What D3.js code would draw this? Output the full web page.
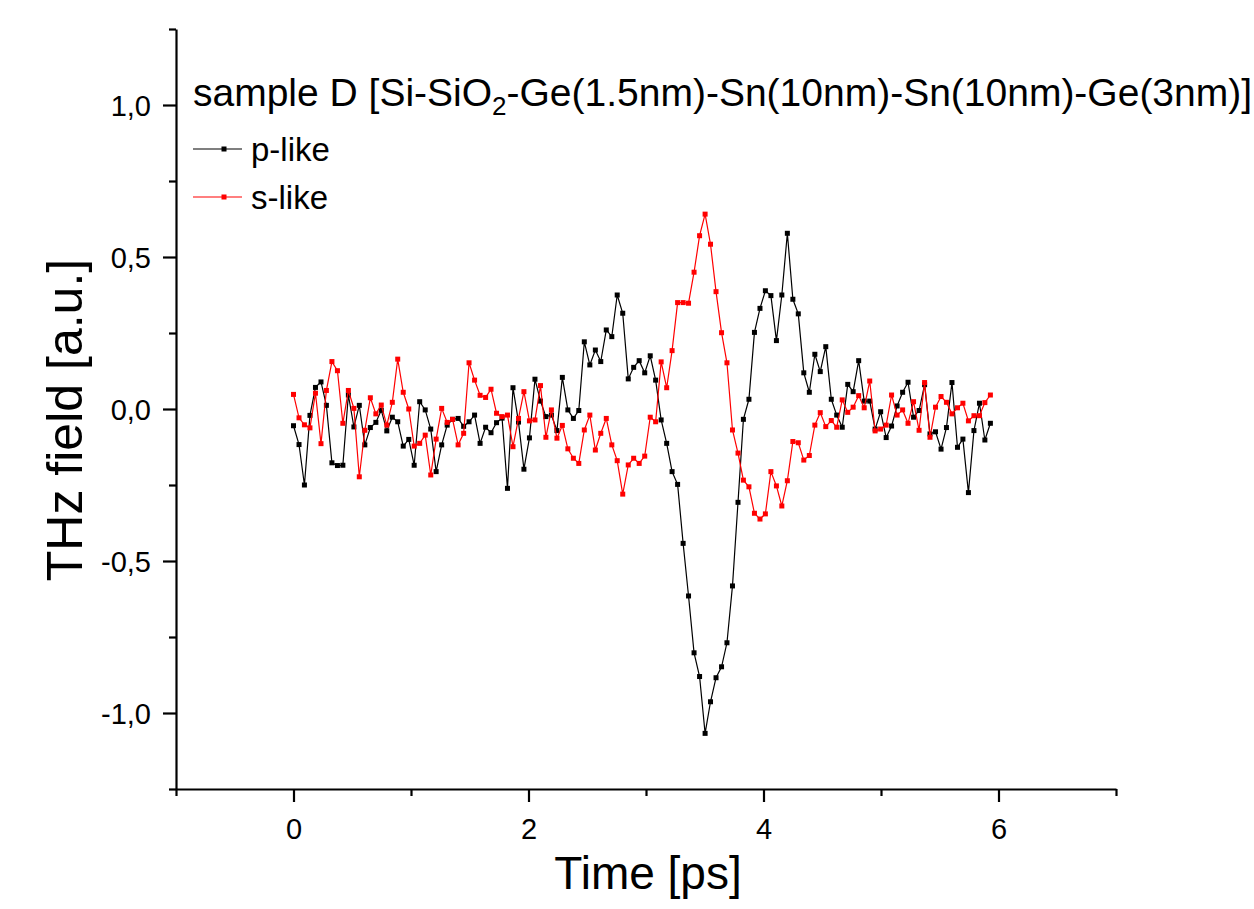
<!DOCTYPE html>
<html>
<head>
<meta charset="utf-8">
<script src="https://cdn.jsdelivr.net/npm/d3@7"></script>
<style>
  body { margin: 0; background: #fff; }
  text { font-family: "Liberation Sans", Arial, sans-serif; fill: #000; }
</style>
</head>
<body>
<div id="chart"></div>
<script>
// Sample times [ps]
const time = [
  0.000, 0.047, 0.093, 0.140, 0.187, 0.234, 0.280, 0.327, 0.374, 0.420,
  0.467, 0.514, 0.560, 0.607, 0.654, 0.701, 0.747, 0.794, 0.841, 0.887,
  0.934, 0.981, 1.027, 1.074, 1.121, 1.168, 1.214, 1.261, 1.308, 1.354,
  1.401, 1.448, 1.494, 1.541, 1.588, 1.635, 1.681, 1.728, 1.775, 1.821,
  1.868, 1.915, 1.961, 2.008, 2.055, 2.102, 2.148, 2.195, 2.242, 2.288,
  2.335, 2.382, 2.428, 2.475, 2.522, 2.569, 2.615, 2.662, 2.709, 2.755,
  2.802, 2.849, 2.895, 2.942, 2.989, 3.036, 3.082, 3.129, 3.176, 3.222,
  3.269, 3.316, 3.362, 3.409, 3.456, 3.503, 3.549, 3.596, 3.643, 3.689,
  3.736, 3.783, 3.829, 3.876, 3.923, 3.970, 4.016, 4.063, 4.110, 4.156,
  4.203, 4.250, 4.296, 4.343, 4.390, 4.437, 4.483, 4.530, 4.577, 4.623,
  4.670, 4.717, 4.763, 4.810, 4.857, 4.904, 4.950, 4.997, 5.044, 5.090,
  5.137, 5.184, 5.230, 5.277, 5.324, 5.371, 5.417, 5.464, 5.511, 5.557,
  5.604, 5.651, 5.697, 5.744, 5.791, 5.838, 5.884, 5.931
];

// p-like signal (black)
const pLike = [
  -0.055, -0.117, -0.250, -0.021, 0.071, 0.089, 0.012, -0.177, -0.186, -0.185,
  0.046, -0.059, 0.012, -0.118, -0.061, -0.044, -0.004, -0.072, -0.027, -0.042,
  -0.122, -0.100, -0.185, 0.024, -0.003, -0.066, -0.206, -0.118, -0.053, -0.034,
  -0.031, -0.057, -0.042, -0.020, -0.113, -0.060, -0.078, -0.045, -0.030, -0.261,
  0.070, -0.043, -0.198, -0.095, 0.098, 0.026, -0.025, -0.020, -0.071, 0.104,
  -0.003, -0.031, -0.005, 0.221, 0.145, 0.194, 0.156, 0.260, 0.238, 0.375,
  0.315, 0.099, 0.137, 0.159, 0.119, 0.175, 0.095, -0.036, -0.113, -0.206,
  -0.248, -0.442, -0.615, -0.802, -0.880, -1.067, -0.963, -0.884, -0.848, -0.769,
  -0.582, -0.307, -0.034, 0.032, 0.252, 0.331, 0.389, 0.373, 0.225, 0.375,
  0.578, 0.361, 0.313, 0.119, 0.055, 0.180, 0.123, 0.205, 0.032, -0.020,
  -0.060, 0.081, 0.057, 0.159, 0.026, 0.026, -0.066, -0.009, -0.094, -0.056,
  0.010, 0.055, 0.088, -0.027, -0.005, 0.080, -0.082, -0.075, -0.132, -0.061,
  0.087, -0.126, -0.099, -0.275, -0.071, 0.019, -0.102, -0.047
];

// s-like signal (red)
const sLike = [
  0.048, -0.029, -0.052, -0.062, 0.052, -0.114, 0.061, 0.156, 0.126, -0.047,
  0.061, 0.002, -0.223, -0.070, 0.037, -0.016, 0.013, -0.053, 0.022, 0.164,
  0.055, 0.000, -0.122, -0.113, -0.086, -0.217, -0.099, 0.002, -0.044, -0.034,
  -0.118, -0.080, 0.152, 0.095, 0.045, 0.038, 0.065, -0.014, -0.025, -0.020,
  -0.124, -0.031, 0.057, -0.039, -0.036, 0.077, -0.093, -0.003, -0.096, -0.054,
  -0.131, -0.162, -0.179, -0.069, -0.020, -0.135, -0.080, -0.031, -0.118, -0.170,
  -0.280, -0.184, -0.162, -0.179, -0.155, -0.027, -0.042, 0.155, 0.070, 0.192,
  0.350, 0.350, 0.348, 0.450, 0.570, 0.641, 0.542, 0.386, 0.251, 0.152,
  -0.069, -0.145, -0.234, -0.256, -0.343, -0.362, -0.345, -0.206, -0.253, -0.319,
  -0.236, -0.107, -0.111, -0.168, -0.153, -0.053, -0.012, -0.058, -0.038, -0.060,
  0.030, -0.011, 0.006, 0.044, 0.004, 0.092, -0.072, -0.066, -0.053, 0.046,
  -0.020, -0.003, -0.047, 0.024, -0.070, 0.087, -0.093, 0.006, 0.041, 0.022,
  -0.016, 0.004, 0.019, -0.039, -0.022, -0.022, 0.021, 0.046
];

// Tick values
const xMajorTicks = [0, 2, 4, 6];
const xMinorTicks = [-1, 1, 3, 5, 7];
const yMajorTicks = [-1, -0.5, 0, 0.5, 1];
const yMinorTicks = [-1.25, -0.75, -0.25, 0.25, 0.75, 1.25];

const seriesNames = ['p-like', 's-like'];
const seriesColors = ['#000000', '#ff0000'];

const width = 1254;
const height = 909;

const svg = d3.select('#chart')
  .append('svg')
    .attr('width', width)
    .attr('height', height);

const x = d3.scaleLinear()
    .domain([-1, 7])
    .range([176, 1116]);

const y = d3.scaleLinear()
    .domain([-1.25, 1.25])
    .range([789, 29]);

// comma decimals, plain hyphen minus
const locale = d3.formatLocale({ decimal: ',', thousands: '.', grouping: [3], currency: ['', ''], minus: '-' });
const fmtY = locale.format('.1f');

// minor ticks first, majors drawn on top
svg.append('g')
    .attr('transform', `translate(0,${y(-1.25)})`)
    .call(d3.axisBottom(x).tickValues(xMinorTicks).tickSize(7).tickSizeOuter(0).tickFormat(''))
    .call(g => g.select('.domain').remove());

svg.append('g')
    .attr('transform', `translate(${x(-1)},0)`)
    .call(d3.axisLeft(y).tickValues(yMinorTicks).tickSize(7).tickSizeOuter(0).tickFormat(''))
    .call(g => g.select('.domain').remove());

const xAxis = svg.append('g')
    .attr('transform', `translate(0,${y(-1.25)})`)
    .call(d3.axisBottom(x).tickValues(xMajorTicks).tickSize(13).tickSizeOuter(0).tickPadding(16));

const yAxis = svg.append('g')
    .attr('transform', `translate(${x(-1)},0)`)
    .call(d3.axisLeft(y).tickValues(yMajorTicks).tickSize(13).tickSizeOuter(0).tickPadding(12).tickFormat(fmtY));

svg.selectAll('.tick line, .domain')
    .attr('stroke', '#000')
    .attr('stroke-width', 2.2);

xAxis.selectAll('.tick text')
    .style('font-size', '29px')
    .style('font-family', '"Liberation Sans", Arial, sans-serif');

yAxis.selectAll('.tick text')
    .style('font-size', '29px')
    .style('font-family', '"Liberation Sans", Arial, sans-serif')
    .attr('dy', '0.36em');

// axis titles
svg.append('text')
    .attr('x', 648)
    .attr('y', 889)
    .attr('text-anchor', 'middle')
    .style('font-size', '46px')
    .text('Time [ps]');

svg.append('text')
    .attr('transform', `translate(82,${y(0) + 11}) rotate(-90)`)
    .attr('text-anchor', 'middle')
    .style('font-size', '50px')
    .text('THz field [a.u.]');

// series
const series = [pLike, sLike];
const line = d3.line()
    .x((d, i) => x(time[i]))
    .y(d => y(d));

// black first, red on top (as in the reference)
series.forEach((values, k) => {
  const g = svg.append('g');
  g.append('path')
      .datum(values)
      .attr('fill', 'none')
      .attr('stroke', seriesColors[k])
      .attr('stroke-width', 1.2)
      .attr('d', line);
  g.selectAll('rect')
    .data(values)
    .join('rect')
      .attr('x', (d, i) => x(time[i]) - 2.5)
      .attr('y', d => y(d) - 2.5)
      .attr('width', 5)
      .attr('height', 5)
      .attr('fill', seriesColors[k]);
});

// title with subscript
const title = svg.append('text')
    .attr('x', 193)
    .attr('y', 106)
    .style('font-size', '39px');
title.append('tspan').text('sample D [Si-SiO');
title.append('tspan').attr('dy', 9).style('font-size', '26px').text('2');
title.append('tspan').attr('dy', -9).text('-Ge(1.5nm)-Sn(10nm)-Sn(10nm)-Ge(3nm)]');

// legend
const legend = svg.selectAll('.legend')
  .data(seriesNames)
  .join('g')
    .attr('class', 'legend')
    .attr('transform', (d, i) => `translate(193,${149 + i * 48})`);

legend.append('line')
    .attr('x1', 0)
    .attr('x2', 49)
    .attr('stroke', (d, i) => seriesColors[i])
    .attr('stroke-width', 1.2);

legend.append('rect')
    .attr('x', 28.5)
    .attr('y', -2.5)
    .attr('width', 5)
    .attr('height', 5)
    .attr('fill', (d, i) => seriesColors[i]);

legend.append('text')
    .attr('x', 58)
    .attr('dy', '0.35em')
    .style('font-size', '33px')
    .text(d => d);
</script>
</body>
</html>
